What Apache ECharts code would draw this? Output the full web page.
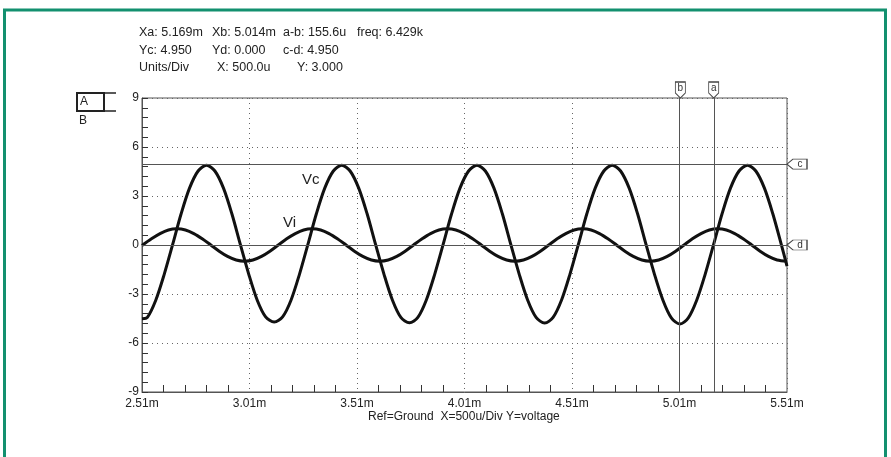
<!DOCTYPE html>
<html>
<head>
<meta charset="utf-8">
<script src="https://cdn.jsdelivr.net/npm/echarts@6/dist/echarts.min.js"></script>
<style>
html,body{margin:0;padding:0;background:#fff;}
#chart{width:891px;height:457px;}
</style>
</head>
<body>
<div id="chart"></div>
<script>
// ---- data (time in ms, voltage in V) ----
const vcT = [2.51,
  2.535, 2.574, 2.613, 2.653, 2.692, 2.731, 2.771,
  2.810, 2.849, 2.889, 2.928, 2.967, 3.007, 3.046, 3.085, 3.125, 3.164, 3.203, 3.242, 3.282, 3.321, 3.360, 3.400,
  3.439, 3.478, 3.518, 3.557, 3.596, 3.636, 3.675, 3.714, 3.754, 3.793, 3.832, 3.871, 3.911, 3.950, 3.989, 4.029,
  4.068, 4.107, 4.147, 4.186, 4.225, 4.265, 4.304, 4.343, 4.383, 4.422, 4.461, 4.500, 4.540, 4.579, 4.618, 4.658,
  4.697, 4.736, 4.776, 4.815, 4.854, 4.894, 4.933, 4.972, 5.012, 5.051, 5.090, 5.129, 5.169, 5.208, 5.247, 5.287,
  5.326, 5.365, 5.405, 5.444, 5.483,
  5.51];
const vcV = [-4.52,
  -4.43, -3.38, -1.81, 0.05, 1.91, 3.48, 4.53,
  4.88, 4.53, 3.48, 1.91, 0.05, -1.81, -3.38, -4.40, -4.72, -4.40, -3.38, -1.81, 0.05, 1.91, 3.48, 4.53,
  4.88, 4.53, 3.48, 1.91, 0.05, -1.81, -3.38, -4.43, -4.76, -4.43, -3.38, -1.81, 0.05, 1.91, 3.48, 4.53,
  4.88, 4.53, 3.48, 1.91, 0.05, -1.81, -3.38, -4.43, -4.78, -4.43, -3.38, -1.81, 0.05, 1.91, 3.48, 4.53,
  4.88, 4.53, 3.48, 1.91, 0.05, -1.81, -3.38, -4.46, -4.84, -4.46, -3.38, -1.81, 0.05, 1.91, 3.48, 4.53,
  4.88, 4.53, 3.48, 1.91, 0.05,
  -1.30];
const viT = [2.51,
  2.554, 2.594, 2.633,
  2.672, 2.712, 2.751, 2.790, 2.830, 2.869, 2.908, 2.948, 2.987, 3.026, 3.066, 3.105, 3.144, 3.183, 3.223, 3.262,
  3.301, 3.341, 3.380, 3.419, 3.459, 3.498, 3.537, 3.577, 3.616, 3.655, 3.695, 3.734, 3.773, 3.813, 3.852, 3.891,
  3.930, 3.970, 4.009, 4.048, 4.088, 4.127, 4.166, 4.206, 4.245, 4.284, 4.324, 4.363, 4.402, 4.441, 4.481, 4.520,
  4.559, 4.599, 4.638, 4.677, 4.717, 4.756, 4.795, 4.835, 4.874, 4.913, 4.953, 4.992, 5.031, 5.070, 5.110, 5.149,
  5.188, 5.228, 5.267, 5.306, 5.346, 5.385, 5.424, 5.464,
  5.51];
const viV = [-0.03,
  0.38, 0.70, 0.92,
  0.99, 0.92, 0.70, 0.38, 0.00, -0.38, -0.70, -0.92, -0.99, -0.92, -0.70, -0.38, 0.00, 0.38, 0.70, 0.92,
  0.99, 0.92, 0.70, 0.38, 0.00, -0.38, -0.70, -0.92, -0.99, -0.92, -0.70, -0.38, 0.00, 0.38, 0.70, 0.92,
  0.99, 0.92, 0.70, 0.38, 0.00, -0.38, -0.70, -0.92, -0.99, -0.92, -0.70, -0.38, 0.00, 0.38, 0.70, 0.92,
  0.99, 0.92, 0.70, 0.38, 0.00, -0.38, -0.70, -0.92, -0.99, -0.92, -0.70, -0.38, 0.00, 0.38, 0.70, 0.92,
  0.99, 0.92, 0.70, 0.38, 0.00, -0.38, -0.70, -0.92,
  -0.99];
const xRange = [2.51, 5.51];       // ms
const yRange = [-9, 9];            // V
const cursorX = [5.169, 5.014];    // a, b
const cursorXNames = ['a', 'b'];
const cursorY = [4.95, 0.0];       // c, d
const cursorYNames = ['c', 'd'];
const headerLines = [
  ['Xa: 5.169m', 'Xb: 5.014m', 'a-b: 155.6u', 'freq: 6.429k'],
  ['Yc: 4.950', 'Yd: 0.000', 'c-d: 4.950'],
  ['Units/Div', 'X: 500.0u', 'Y: 3.000']
];
const footer = 'Ref=Ground  X=500u/Div Y=voltage';

// ---- chart ----
const FONT = 'Arial, "Liberation Sans", sans-serif';
const chart = echarts.init(document.getElementById('chart'), null, {renderer: 'canvas'});

const headerX = [[139, 212, 283, 357], [139, 212, 283], [139, 217, 297]];
const headerY = [33, 50.5, 68];
const graphics = [];
graphics.push({type: 'rect', shape: {x: 4.5, y: 10, width: 881, height: 480},
  style: {fill: 'none', stroke: '#13906f', lineWidth: 3}, silent: true});
headerLines.forEach((line, li) => line.forEach((txt, ti) => {
  graphics.push({type: 'text', x: headerX[li][ti], y: headerY[li],
    style: {text: txt, font: '12.5px ' + FONT, fill: '#222', verticalAlign: 'middle', align: 'left'}});
}));
// A/B trace selector box
graphics.push({type: 'rect', shape: {x: 77, y: 93, width: 27, height: 18},
  style: {fill: 'none', stroke: '#222', lineWidth: 2}});
graphics.push({type: 'line', shape: {x1: 104, y1: 93, x2: 116, y2: 93}, style: {stroke: '#222', lineWidth: 1.5}});
graphics.push({type: 'line', shape: {x1: 104, y1: 111, x2: 116, y2: 111}, style: {stroke: '#222', lineWidth: 1.5}});
graphics.push({type: 'text', x: 80, y: 102, style: {text: 'A', font: '12px ' + FONT, fill: '#222', verticalAlign: 'middle'}});
graphics.push({type: 'text', x: 79, y: 121, style: {text: 'B', font: '12px ' + FONT, fill: '#222', verticalAlign: 'middle'}});
// trace names
graphics.push({type: 'text', x: 302, y: 180, style: {text: 'Vc', font: '15px ' + FONT, fill: '#222', verticalAlign: 'middle'}});
graphics.push({type: 'text', x: 283, y: 223, style: {text: 'Vi', font: '15px ' + FONT, fill: '#222', verticalAlign: 'middle'}});
// footer
graphics.push({type: 'text', x: 368, y: 417, style: {text: footer, font: '12px ' + FONT, fill: '#222', verticalAlign: 'middle'}});

const downTag = 'path://M0,0 L10,0 L10,11 L5,16 L0,11 Z';
const leftTag = 'path://M0,5 L6,0 L20,0 L20,10 L6,10 Z';
const markPoints = [];
cursorX.forEach((x, i) => markPoints.push({
  coord: [x, yRange[1]], symbol: downTag, symbolSize: [10, 16], symbolOffset: [0, -8],
  label: {show: true, formatter: cursorXNames[i], position: 'inside', offset: [0, -2],
    fontSize: 10, fontFamily: FONT, color: '#333'}
}));
cursorY.forEach((y, i) => markPoints.push({
  coord: [xRange[1], y], symbol: leftTag, symbolSize: [20, 10], symbolOffset: [10, 0],
  label: {show: true, formatter: cursorYNames[i], position: 'inside', offset: [3, 0],
    fontSize: 10, fontFamily: FONT, color: '#333'}
}));

const option = {
  animation: false,
  backgroundColor: '#fff',
  grid: {left: 142, top: 98, width: 645, height: 294, show: true, borderColor: '#555', borderWidth: 1,
    backgroundColor: 'transparent'},
  xAxis: {
    type: 'value', min: xRange[0], max: xRange[1], interval: 0.5,
    axisLine: {show: true, onZero: false, lineStyle: {color: '#555', width: 1}},
    axisTick: {show: false, inside: true},
    minorTick: {show: true, splitNumber: 5, length: 7, lineStyle: {color: '#333', width: 1}},
    axisLabel: {show: true, margin: 6, color: '#222', fontSize: 12, fontFamily: FONT,
      formatter: v => v.toFixed(2) + 'm'},
    splitLine: {show: true, lineStyle: {color: '#666', width: 1, type: [1, 4]}}
  },
  yAxis: {
    type: 'value', min: yRange[0], max: yRange[1], interval: 3,
    axisLine: {show: true, onZero: false, lineStyle: {color: '#555', width: 1}},
    axisTick: {show: true, inside: true, length: 6, lineStyle: {color: '#333'}},
    minorTick: {show: true, splitNumber: 5, length: 6, lineStyle: {color: '#333', width: 1}},
    axisLabel: {show: true, margin: 3, color: '#222', fontSize: 12, fontFamily: FONT,
      formatter: v => String(Math.round(v))},
    splitLine: {show: true, lineStyle: {color: '#666', width: 1, type: [1, 4]}}
  },
  series: [
    {
      name: 'cursors', type: 'line', data: [], z: 1, clip: false, silent: true,
      markLine: {
        silent: true, symbol: ['none', 'none'], animation: false,
        lineStyle: {color: '#555', width: 1, type: 'solid'},
        label: {show: false},
        data: cursorX.map(x => ({xAxis: x})).concat(cursorY.map(y => ({yAxis: y})))
      },
      markPoint: {
        silent: true, animation: false,
        itemStyle: {color: '#fff', borderColor: '#444', borderWidth: 1},
        data: markPoints
      }
    },
    {
      name: 'Vc', type: 'line', z: 3, showSymbol: false, smooth: 0.3,
      lineStyle: {color: '#111', width: 3, join: 'round'},
      data: vcT.map((t, i) => [t, vcV[i]])
    },
    {
      name: 'Vi', type: 'line', z: 3, showSymbol: false, smooth: 0.3,
      lineStyle: {color: '#111', width: 3, join: 'round'},
      data: viT.map((t, i) => [t, viV[i]])
    }
  ],
  graphic: graphics
};
chart.setOption(option);
</script>
</body>
</html>
